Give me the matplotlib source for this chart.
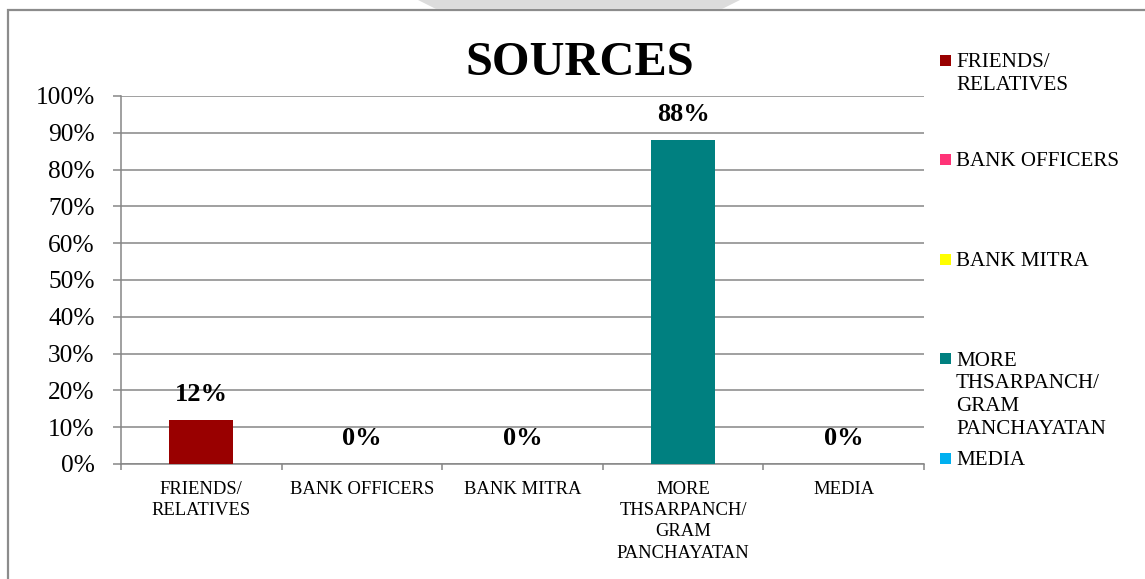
import matplotlib
matplotlib.use('Agg')
import matplotlib.pyplot as plt
import numpy as np
from matplotlib.patches import Rectangle, Polygon

# ===================== ДАННЫЕ =====================
categories = ['FRIENDS/\nRELATIVES', 'BANK OFFICERS', 'BANK MITRA',
              'MORE\nTHSARPANCH/\nGRAM\nPANCHAYATAN', 'MEDIA']
values = [12, 0, 0, 88, 0]
colors = ['#990000', '#FF3377', '#FFFF00', '#008080', '#00B0F0']
yticks = [0, 10, 20, 30, 40, 50, 60, 70, 80, 90, 100]
title = 'SOURCES'

# ===================== СТИЛЬ =====================
plt.rcParams['font.family'] = ['Liberation Serif', 'DejaVu Serif']
GRID = '#868686'
W, H = 1145, 579

fig = plt.figure(figsize=(W / 100, H / 100), dpi=100)
fig.patch.set_facecolor('white')

# рамка вокруг диаграммы и серая плашка сверху
fig.patches.append(Rectangle((8 / W, -0.05), 1.1, 1.05 - 10 / H, transform=fig.transFigure,
                             facecolor='none', edgecolor='#8c8c8c', linewidth=1.6))
fig.patches.append(Polygon([(418 / W, 1), (740 / W, 1), (722 / W, 1 - 9 / H), (436 / W, 1 - 9 / H)],
                           closed=True, transform=fig.transFigure, facecolor='#dcdcdc',
                           edgecolor='none'))

ax = fig.add_axes([121 / W, 1 - 464 / H, (924 - 121) / W, (464 - 96) / H])
x = np.arange(len(categories))
bars = ax.bar(x, values, width=0.4, color=colors, zorder=3)

for xi, v in zip(x, values):
    ax.annotate(f'{v}%', (xi, v), xytext=(0, 18.5), textcoords='offset points',
                ha='center', va='center', fontsize=19, fontweight='bold', color='black')

ax.set_xlim(-0.5, len(categories) - 0.5)
ax.set_ylim(0, 100)
ax.set_yticks(yticks)
ax.set_yticklabels([f'{t}%' for t in yticks], fontsize=18.3)
ax.yaxis.grid(True, color=GRID, linewidth=1.1, zorder=0)
ax.tick_params(axis='y', length=6, width=1.1, color=GRID, pad=13)

# деления по границам категорий, подписи по центрам
ax.set_xticks(np.arange(-0.5, len(categories), 1.0))
ax.set_xticklabels([])
ax.tick_params(axis='x', which='major', length=4, width=1.1, color=GRID, direction='out')
ax.set_xticks(x, minor=True)
ax.set_xticklabels(categories, minor=True, fontsize=13.4, linespacing=1.33, va='top')
ax.tick_params(axis='x', which='minor', length=0, pad=12)

for s in ['top', 'right']:
    ax.spines[s].set_visible(False)
for s in ['left', 'bottom']:
    ax.spines[s].set_color(GRID)
    ax.spines[s].set_linewidth(1.1)

fig.text(580 / W, 1 - 63 / H, title, ha='center', va='center', fontsize=34.8, fontweight='bold')

# легенда справа, как в Excel
leg_y = np.linspace(60, 458, len(categories))
for lab, col, yy in zip(categories, colors, leg_y):
    fig.patches.append(Rectangle((940 / W, 1 - (yy + 5.5) / H), 11 / W, 11 / H,
                                 transform=fig.transFigure, facecolor=col, edgecolor='none'))
    fig.text(956 / W, 1 - (yy - 7) / H, lab, ha='left', va='top', fontsize=15.1,
             linespacing=1.28)

plt.savefig('out.png', dpi=100)
plt.close()
